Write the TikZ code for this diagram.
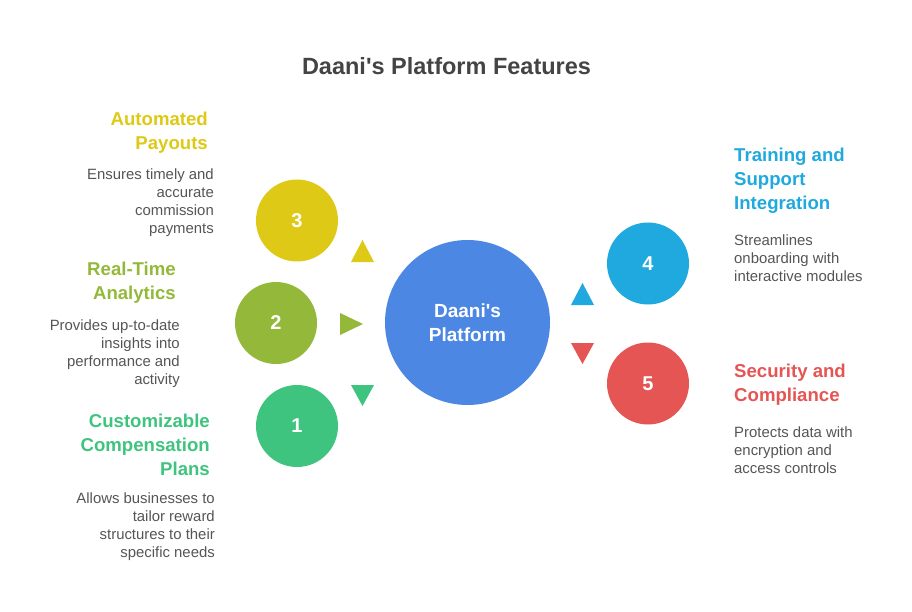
\documentclass[tikz,border=0pt]{standalone}
\usepackage{fontspec}
\setmainfont{Liberation Sans}
\definecolor{cyel}{HTML}{DDC916}
\definecolor{colive}{HTML}{94B93A}
\definecolor{cgreen}{HTML}{3EC47E}
\definecolor{cblue}{HTML}{1FA9DE}
\definecolor{cred}{HTML}{E45553}
\definecolor{ccenter}{HTML}{4C87E3}
\definecolor{ctext}{HTML}{555555}
\definecolor{ctitle}{HTML}{444444}
\begin{document}
\begin{tikzpicture}[x=1pt,y=-1pt,
  ball/.style={circle,draw=none,minimum size=82pt,inner sep=0pt,text=white,font=\bfseries\fontsize{20}{24}\selectfont},
  head/.style={inner sep=0pt,font=\bfseries\fontsize{18.6}{24}\selectfont},
  body/.style={inner sep=0pt,text=ctext,font=\fontsize{14.9}{18}\selectfont},
  tri/.style={draw=none}]
\useasboundingbox (0,0) rectangle (912,612);
\node[inner sep=0pt,text=ctitle,font=\bfseries\fontsize{23.5}{26}\selectfont] (title) at (446.5,66) {Daani\textquotesingle s Platform Features};
% center
\node[circle,fill=ccenter,minimum size=165pt,inner sep=0pt,text=white,align=center,font=\bfseries\fontsize{19}{24}\selectfont] (c) at (467.5,322.5) {Daani\textquotesingle s\\Platform};
% circles
\node[ball,fill=cyel] (n3) at (297,220.5) {3};
\node[ball,fill=colive] (n2) at (276,323) {2};
\node[ball,fill=cgreen] (n1) at (297,426) {1};
\node[ball,fill=cblue] (n4) at (648,263.5) {4};
\node[ball,fill=cred] (n5) at (648,383.5) {5};
% triangles
\fill[cyel] (362.5,240) -- (374,262) -- (351,262) -- cycle;
\fill[colive] (363,324) -- (340,313) -- (340,335) -- cycle;
\fill[cgreen] (362.5,406) -- (351,385) -- (374,385) -- cycle;
\fill[cblue] (582.5,283) -- (594,305) -- (571,305) -- cycle;
\fill[cred] (582.5,364) -- (571,343) -- (594,343) -- cycle;
% left texts
\node[head,text=cyel,align=right,anchor=east] (h3) at (208,132.5) {Automated\\Payouts};
\node[body,align=right,anchor=east] (b3) at (214,203) {Ensures timely and\\accurate\\commission\\payments};
\node[head,text=colive,align=right,anchor=east] (h2) at (176,282.5) {Real-Time\\Analytics};
\node[body,align=right,anchor=east] (b2) at (180,354) {Provides up-to-date\\insights into\\performance and\\activity};
\node[head,text=cgreen,align=right,anchor=east] (h1) at (210,444.5) {Customizable\\Compensation\\Plans};
\node[body,align=right,anchor=east] (b1) at (215,527) {Allows businesses to\\tailor reward\\structures to their\\specific needs};
% right texts
\node[head,text=cblue,align=left,anchor=west] (h4) at (734,180.5) {Training and\\Support\\Integration};
\node[body,align=left,anchor=west] (b4) at (734,258) {Streamlines\\onboarding with\\interactive modules};
\node[head,text=cred,align=left,anchor=west] (h5) at (734,384.5) {Security and\\Compliance};
\node[body,align=left,anchor=west] (b5) at (734,450) {Protects data with\\encryption and\\access controls};
\end{tikzpicture}
\end{document}
